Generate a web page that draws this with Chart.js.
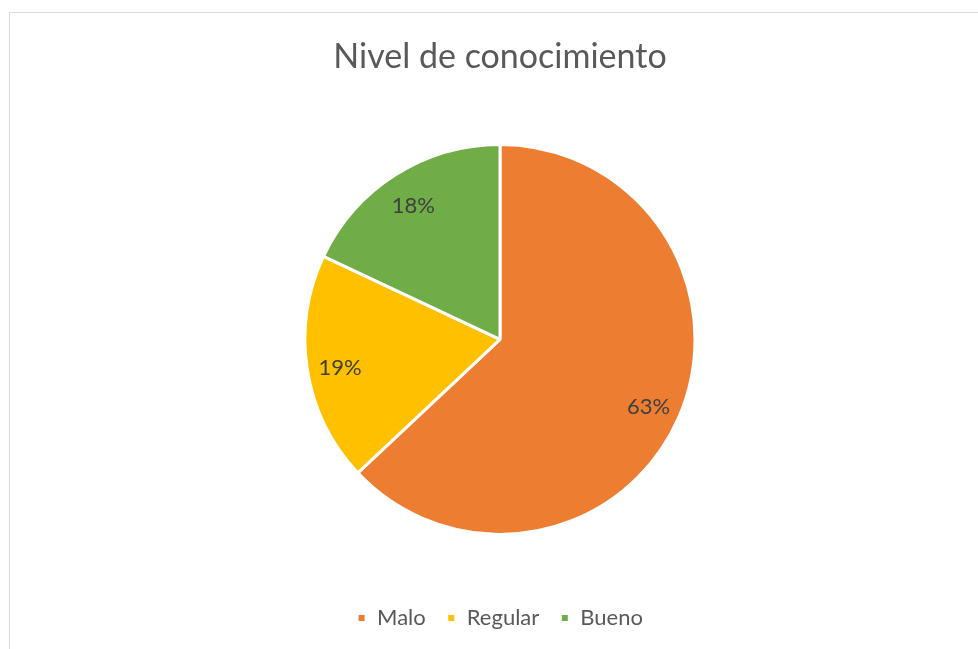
<!DOCTYPE html>
<html>
<head>
<meta charset="utf-8">
<script src="https://cdn.jsdelivr.net/npm/chart.js@4"></script>
<style>
  html, body { margin: 0; padding: 0; background: #fff; overflow: hidden; }
  #frame { position: absolute; left: 9px; top: 12px; width: 1200px; height: 900px; border: 1px solid #d9d9d9; }
  #js-pie { position: absolute; left: 0; top: 0; }
</style>
</head>
<body>
<div id="frame"></div>
<canvas id="js-pie" width="1000" height="649"></canvas>
<script>
var categories = ['Malo', 'Regular', 'Bueno'];
var values = [63, 19, 18];
var colors = ['#ED7D31', '#FFC000', '#70AD47'];

// percent labels inside the slices, like excel does
var pctLabels = {
  id: 'pctLabels',
  afterDatasetsDraw: function(chart) {
    var c = chart.ctx;
    var meta = chart.getDatasetMeta(0);
    var total = values.reduce(function(a, b) { return a + b; }, 0);
    c.save();
    c.font = '22px Lato';
    c.fillStyle = '#404040';
    c.textAlign = 'center';
    c.textBaseline = 'middle';
    meta.data.forEach(function(arc, i) {
      var p = arc.getProps(['x', 'y', 'startAngle', 'endAngle', 'outerRadius'], true);
      var mid = (p.startAngle + p.endAngle) / 2;
      var r = p.outerRadius * 0.83;
      c.fillText(Math.round(values[i] / total * 100) + '%', p.x + Math.cos(mid) * r, p.y + Math.sin(mid) * r + 3);
    });
    c.restore();
  }
};

var ctx = document.getElementById('js-pie');
var pie = new Chart(ctx, {
  type: 'pie',
  data: {
    labels: categories,
    datasets: [{
      data: values,
      backgroundColor: colors,
      borderColor: '#ffffff',
      borderWidth: 3
    }]
  },
  options: {
    responsive: false,
    animation: false,
    radius: 195,
    layout: { padding: { bottom: 10 } },
    plugins: {
      title: {
        display: true,
        text: 'Nivel de conocimiento',
        color: '#595959',
        font: { family: 'Lato', size: 34, weight: 'normal' },
        padding: { top: 37, bottom: 15 }
      },
      legend: {
        position: 'bottom',
        labels: {
          boxWidth: 9,
          boxHeight: 9,
          padding: 21,
          color: '#595959',
          font: { family: 'Lato', size: 22 }
        }
      },
      tooltip: { enabled: false }
    }
  },
  plugins: [pctLabels]
});
</script>
</body>
</html>
